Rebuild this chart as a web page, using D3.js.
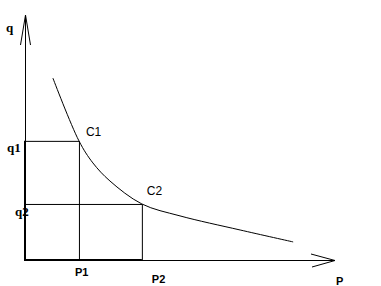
<!DOCTYPE html>
<html>
<head>
<meta charset="utf-8">
<script src="https://cdn.jsdelivr.net/npm/d3@7"></script>
<style>
html,body{margin:0;padding:0;background:#fff;}
svg{display:block;}
</style>
</head>
<body>
<svg id="chart" width="381" height="286"></svg>
<script>
// Demand curve points (P, q)
const curveP = [0.90, 1.74, 2.19, 2.74, 3.77, 5.00, 6.94, 8.65];
const curveQ = [5.94, 3.89, 3.17, 2.58, 1.83, 1.44, 0.98, 0.59];
// Marked points
const pointNames = ["C1", "C2"];
const pointP = [1.74, 3.77];
const pointQ = [3.89, 1.83];
const pLabels = ["P1", "P2"];
const qLabels = ["q1", "q2"];
const axisMax = {P: 10, q: 8};

const svg = d3.select("#chart");
const x = d3.scaleLinear().domain([0, axisMax.P]).range([25, 335]);
const y = d3.scaleLinear().domain([0, axisMax.q]).range([260, 15]);

const g = svg.append("g").attr("stroke", "#000").attr("fill", "none");

// axes
g.append("line").attr("x1", x(0)+0.5).attr("y1", y(0)).attr("x2", x(0)+0.5).attr("y2", y(axisMax.q)).attr("stroke-width", 1);
g.append("line").attr("x1", x(0)).attr("y1", y(0)+0.5).attr("x2", x(axisMax.P)).attr("y2", y(0)+0.5).attr("stroke-width", 1);
// arrowheads (open V)
g.append("path").attr("d", `M${x(0)-4.5},${y(axisMax.q)+30} L${x(0)+0.5},${y(axisMax.q)} L${x(0)+5.5},${y(axisMax.q)+30}`).attr("stroke-width", 1);
g.append("path").attr("d", `M${x(axisMax.P)-24},${y(0)-6} L${x(axisMax.P)},${y(0)+0.5} L${x(axisMax.P)-23},${y(0)+7}`).attr("stroke-width", 1);

// rectangles
pointP.forEach((p, i) => {
  g.append("path")
    .attr("d", `M${x(0)},${y(pointQ[i])+0.5} H${x(p)+0.5} V${y(0)}`)
    .attr("stroke-width", 1);
});
// thicker overlapped edges
g.append("path")
  .attr("d", `M${x(0)},${y(d3.max(pointQ))} V${y(0)} H${x(d3.max(pointP))}`)
  .attr("stroke-width", 2);

// curve
const pts = curveP.map((p, i) => [x(p), y(curveQ[i])]);
g.append("path").attr("d", d3.line().curve(d3.curveCatmullRom)(pts)).attr("stroke-width", 1);

// labels
const t = svg.append("g").attr("fill", "#000");
t.append("text").attr("x", 6).attr("y", 32).attr("font-family", "Liberation Serif").attr("font-weight", "bold").attr("font-size", 13).text("q");
const qOff = [7, 15];
qLabels.forEach((s, i) => {
  t.append("text").attr("x", qOff[i]).attr("y", y(pointQ[i]) + (i===0 ? 11 : 12))
    .attr("font-family", "Liberation Serif").attr("font-weight", "bold").attr("font-size", 13).text(s);
});
pointNames.forEach((s, i) => {
  t.append("text").attr("x", x(pointP[i]) + (i===0 ? 7 : 5)).attr("y", y(pointQ[i]) - (i===0 ? 5 : 9))
    .attr("font-family", "Liberation Sans").attr("font-size", 12).text(s);
});
pLabels.forEach((s, i) => {
  t.append("text").attr("x", x(pointP[i]) - (i===0 ? 4 : -10)).attr("y", y(0) + (i===0 ? 16 : 23))
    .attr("font-family", "Liberation Sans").attr("font-weight", "bold").attr("font-size", 11).text(s);
});
t.append("text").attr("x", x(axisMax.P)+1).attr("y", 285).attr("font-family", "Liberation Sans").attr("font-weight", "bold").attr("font-size", 11).text("P");
</script>
</body>
</html>
